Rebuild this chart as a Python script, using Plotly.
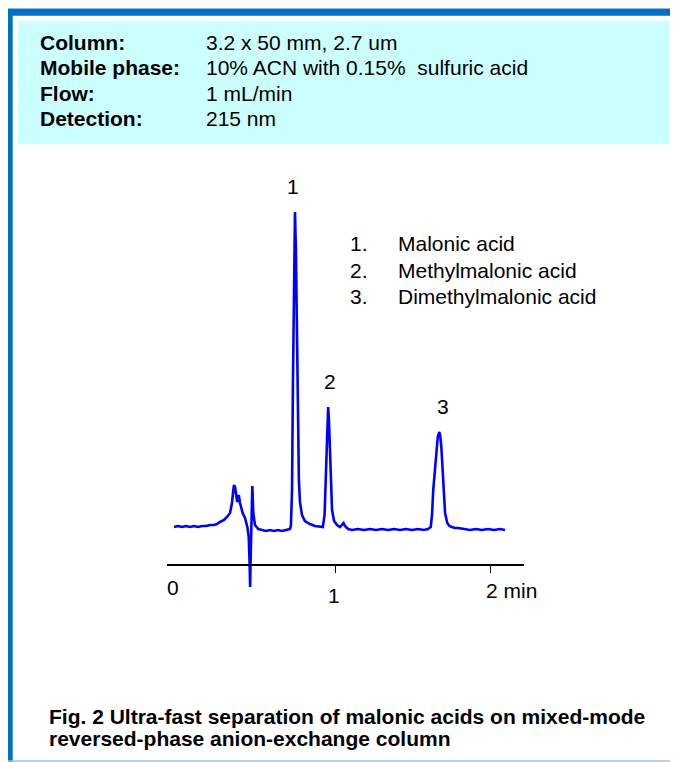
import plotly.graph_objects as go

W, H = 678, 762
OFF = 8  # page body margin offset of the rendered figure

# ---------------- data ----------------
time_min = [
    -0.034, -0.008, 0.017, 0.043, 0.069, 0.095, 0.120, 0.146, 0.172, 0.197,
    0.223, 0.242, 0.261, 0.287, 0.306, 0.326, 0.338, 0.345, 0.351, 0.358,
    0.364, 0.372, 0.382, 0.390, 0.407, 0.422, 0.437, 0.446, 0.451, 0.455,
    0.458, 0.461, 0.465, 0.469, 0.475, 0.486, 0.507, 0.531, 0.557, 0.583,
    0.608, 0.634, 0.660, 0.685, 0.711,
    0.717, 0.724, 0.730, 0.736, 0.743, 0.749, 0.756, 0.762, 0.768, 0.775,
    0.788, 0.807, 0.839, 0.871, 0.903, 0.922,
    0.933, 0.939, 0.946, 0.952, 0.956, 0.961, 0.968, 0.974, 0.981, 0.994,
    1.013, 1.032, 1.045, 1.055, 1.064, 1.084, 1.109,
    1.148, 1.186, 1.225, 1.263, 1.302, 1.340, 1.379, 1.418, 1.456, 1.495,
    1.533, 1.571, 1.597,
    1.615, 1.623, 1.631, 1.642, 1.651, 1.660, 1.670, 1.676, 1.683, 1.689,
    1.696, 1.702, 1.707, 1.721, 1.735, 1.750, 1.771, 1.792,
    1.829, 1.867, 1.906, 1.944, 1.983, 2.021, 2.059, 2.092,
]
signal_mau = [
    3, 4, 3, 4, 3, 4, 3, 4, 4, 5,
    5, 6, 8, 10, 13, 17, 27, 38, 45, 43,
    38, 28, 35, 27, 17, 12, 3, -7, -30, -57,
    -30, -7, 20, 44, 17, 5, 1, 0, -1, 0,
    -1, 0, -1, 0, 1,
    5, 40, 150, 270, 318, 280, 180, 100, 50, 28,
    15, 9, 6, 4, 3, 3,
    15, 45, 90, 118, 123, 110, 70, 38, 20, 9,
    5, 3, 5, 7, 4, 1, 0,
    1, 0, 1, 0, 1, 0, 1, 0, 1, 0,
    1, 0, 1,
    3, 15, 40, 62, 80, 93, 98, 94, 83, 65,
    43, 27, 17, 7, 4, 3, 2, 2,
    1, 0, 1, 0, 1, 0, 1, 0,
]

peak_labels = ["1", "2", "3"]
peak_times = [0.743, 0.956, 1.670]
peak_heights = [318, 123, 98]

compound_numbers = ["1.", "2.", "3."]
compound_names = ["Malonic acid", "Methylmalonic acid", "Dimethylmalonic acid"]

condition_labels = ["Column:", "Mobile phase:", "Flow:", "Detection:"]
condition_values = ["3.2 x 50 mm, 2.7 um",
                    "10% ACN with 0.15%\u00a0 sulfuric acid",
                    "1 mL/min",
                    "215 nm"]

tick_values = [1, 2]
caption_lines = ["Fig. 2 Ultra-fast separation of malonic acids on mixed-mode",
                 "reversed-phase anion-exchange column"]

# ---------------- helpers (screen pixel -> paper fraction) ----------------
def fx(x):
    return (x - OFF) / W


def fy(y):
    return 1 - (y - OFF) / H


FONT = "Liberation Sans, Arial, Helvetica, sans-serif"
FS = 21
BASE_Y = 530  # screen row of the zero signal level

fig = go.Figure()
fig.add_trace(go.Scatter(
    x=time_min, y=signal_mau, mode="lines",
    line=dict(color="#0000FF", width=2.6),
    hoverinfo="skip",
))

shapes = []
# cyan conditions box
shapes.append(dict(type="rect", xref="paper", yref="paper",
                   x0=fx(18), x1=fx(672), y0=fy(144), y1=fy(21),
                   fillcolor="#CCFFFF", line=dict(width=0), layer="below"))
# blue frame (top and left)
shapes.append(dict(type="rect", xref="paper", yref="paper",
                   x0=fx(6), x1=fx(690), y0=fy(15.7), y1=fy(9),
                   fillcolor="#0070C0", line=dict(width=0), layer="below"))
shapes.append(dict(type="rect", xref="paper", yref="paper",
                   x0=fx(6), x1=fx(12.7), y0=fy(775), y1=fy(9),
                   fillcolor="#0070C0", line=dict(width=0), layer="below"))
shapes.append(dict(type="line", xref="paper", yref="paper",
                   x0=fx(6), x1=fx(690), y0=fy(8.5), y1=fy(8.5),
                   line=dict(color="#8FB8E0", width=1), layer="below"))
# light bottom rule
shapes.append(dict(type="line", xref="paper", yref="paper",
                   x0=fx(6), x1=fx(690), y0=fy(761), y1=fy(761),
                   line=dict(color="#9DC3E6", width=1.5), layer="below"))

txt_font = dict(family=FONT, size=FS, color="black")
annotations = []
row_y = [42.5, 68, 93.5, 119]
for lab, val, yy in zip(condition_labels, condition_values, row_y):
    annotations.append(dict(text="<b>" + lab + "</b>", xref="paper", yref="paper",
                            x=fx(38), y=fy(yy), xanchor="left", yanchor="middle",
                            showarrow=False, font=txt_font))
    annotations.append(dict(text=val, xref="paper", yref="paper",
                            x=fx(204), y=fy(yy), xanchor="left", yanchor="middle",
                            showarrow=False, font=txt_font))

# compound list
for num, name, yy in zip(compound_numbers, compound_names, [244, 270, 296]):
    annotations.append(dict(text=num, xref="paper", yref="paper",
                            x=fx(348), y=fy(yy), xanchor="left", yanchor="middle",
                            showarrow=False, font=txt_font))
    annotations.append(dict(text=name, xref="paper", yref="paper",
                            x=fx(396), y=fy(yy), xanchor="left", yanchor="middle",
                            showarrow=False, font=txt_font))

# peak numbers
for lab, t, h, dx in zip(peak_labels, peak_times, peak_heights, [-2, 2, 4]):
    annotations.append(dict(text=lab, xref="x", yref="y", x=t, y=h,
                            xanchor="center", yanchor="middle", yshift=26, xshift=dx,
                            showarrow=False, font=txt_font))

# axis labels
annotations.append(dict(text="0", xref="x", yref="paper", x=0, y=fy(587),
                        xanchor="center", yanchor="middle", xshift=-6,
                        showarrow=False, font=txt_font))
annotations.append(dict(text="1", xref="x", yref="paper", x=1, y=fy(595),
                        xanchor="center", yanchor="middle", xshift=-1,
                        showarrow=False, font=txt_font))
annotations.append(dict(text="2 min", xref="x", yref="paper", x=2, y=fy(590),
                        xanchor="left", yanchor="middle", xshift=-7,
                        showarrow=False, font=txt_font))

# caption
for line, yy in zip(caption_lines, [716.5, 738]):
    annotations.append(dict(text="<b>" + line + "</b>", xref="paper", yref="paper",
                            x=fx(47), y=fy(yy), xanchor="left", yanchor="middle",
                            showarrow=False, font=txt_font))

fig.update_layout(
    width=W, height=H,
    margin=dict(l=0, r=0, t=0, b=0, pad=0, autoexpand=False),
    paper_bgcolor="white", plot_bgcolor="rgba(0,0,0,0)",
    showlegend=False,
    shapes=shapes, annotations=annotations,
    xaxis=dict(domain=[fx(167), fx(524)], range=[-0.0790, 2.2139],
               anchor="free", position=fy(564.5),
               showline=True, linecolor="black", linewidth=1.5,
               ticks="outside", ticklen=8, tickwidth=1, tickcolor="black",
               tickvals=tick_values, showticklabels=False,
               showgrid=False, zeroline=False, fixedrange=True),
    yaxis=dict(domain=[0, 1], range=[BASE_Y - OFF - H, BASE_Y - OFF], visible=False,
               showgrid=False, zeroline=False, fixedrange=True),
)

fig.write_html("out.html")
